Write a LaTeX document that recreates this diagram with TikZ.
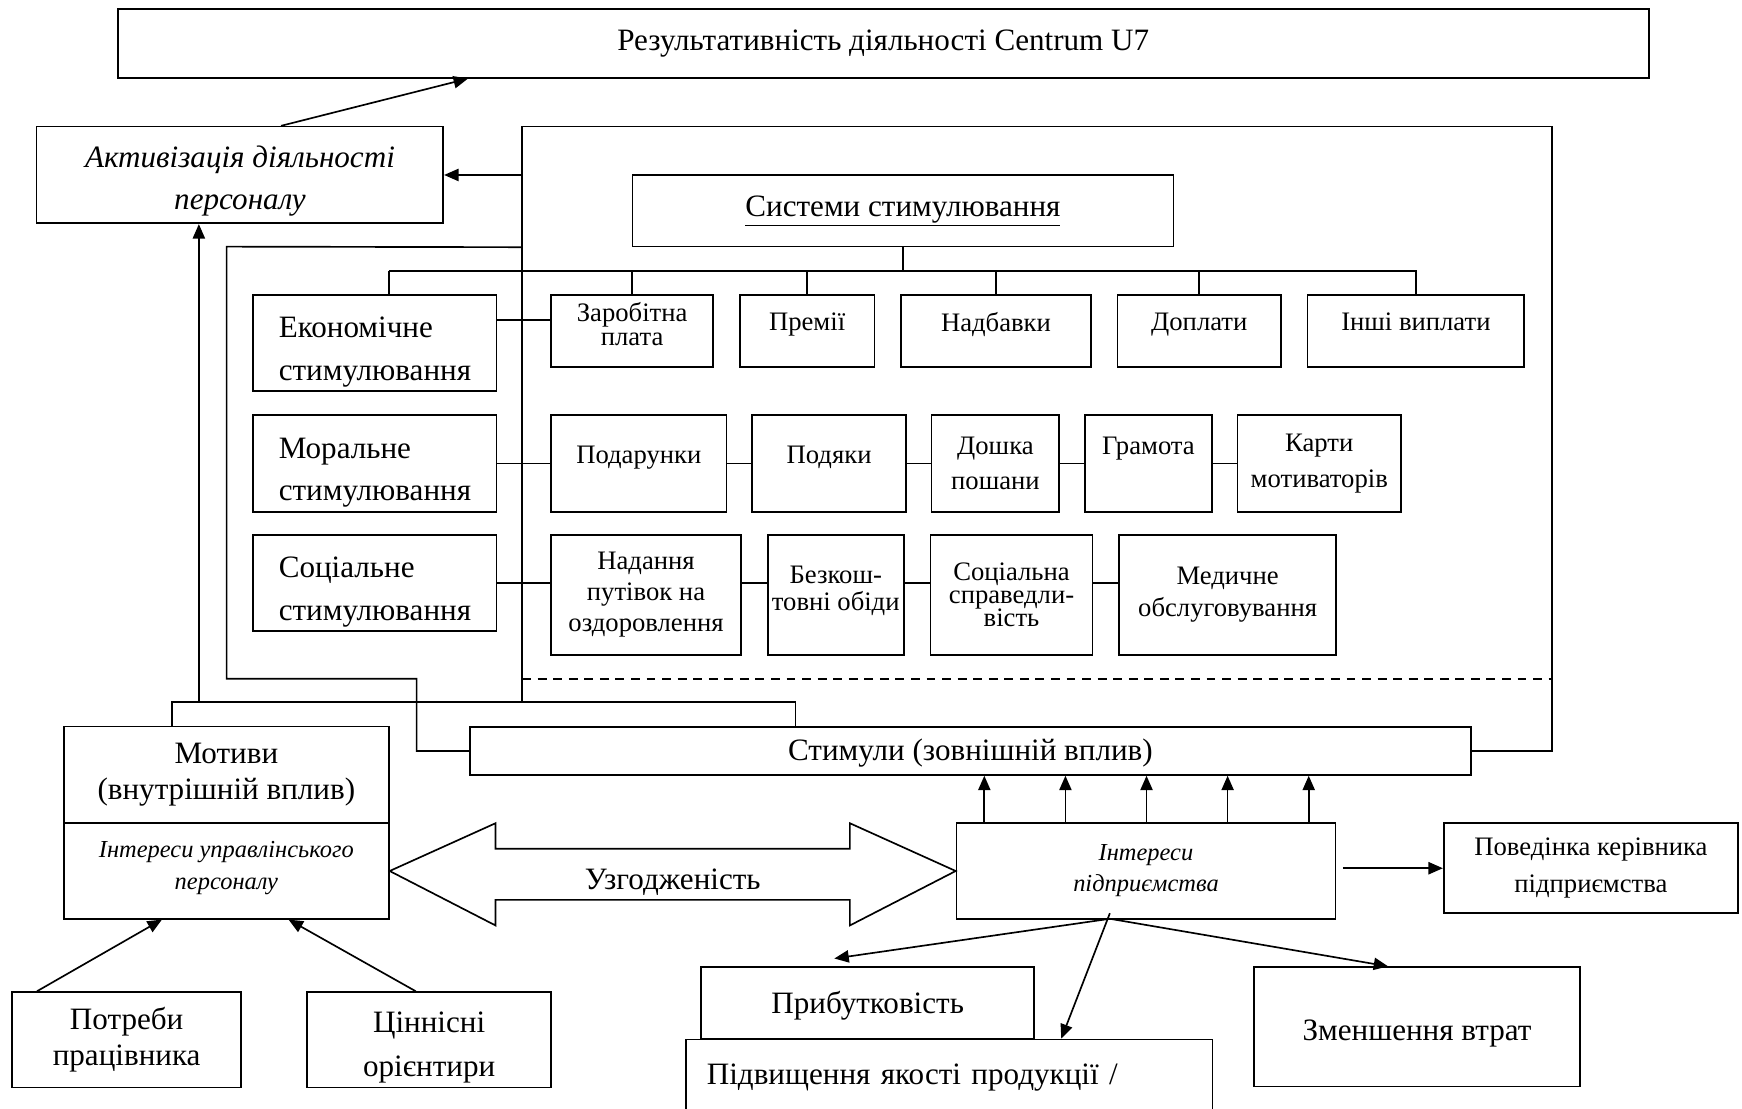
\documentclass[tikz,border=0pt]{standalone}
\usepackage{fontspec}
\setmainfont{Liberation Serif}
\usetikzlibrary{arrows.meta, positioning}

\begin{document}
\begin{tikzpicture}[x=1pt, y=-1pt, line width=1.5pt, node distance=22.5pt,
    box/.style={draw, fill=white, inner sep=0pt, align=center},
    big/.style={font=\fontsize{28}{34}\selectfont},
    small/.style={font=\fontsize{24}{32}\selectfont},
    cat/.style={box, font=\fontsize{28}{38}\selectfont, align=left, minimum width=219, text height=73pt},
    arr/.style={-{Triangle[length=13pt,width=11pt]}}]
    \useasboundingbox (0,0) rectangle (1568,998);

    \node[box, big, minimum width=1378, minimum height=62] (res) at (795,39) {Результативність діяльності Centrum U7};
    \node[box, font={\fontsize{28}{38}\selectfont\itshape}, minimum width=366, minimum height=87, text height=69pt] (act) at (216,157.5) {Активізація діяльності\\персоналу};
    \node[box, big, minimum width=487, minimum height=64] (sys) at (812.75,189.75) {\underline{Системи стимулювання}};

    \node[cat, minimum height=86.5] (econ) at (337.5,308.75) {Економічне\\стимулювання};
    \node[cat, minimum height=87.5] (mor) at (337.5,417.25) {Моральне\\стимулювання};
    \node[cat, minimum height=86.5] (soc) at (337.5,524.75) {Соціальне\\стимулювання};

    \node[box, font=\fontsize{24}{22}\selectfont, minimum width=146, minimum height=65, text depth=13pt] (zp) at (569,298) {Заробітна\\плата};
    \node[box, small, minimum width=121, minimum height=65, text depth=17pt, right=of zp] (prem) {Премії};
    \node[box, small, minimum width=171, minimum height=65, text depth=17pt, right=of prem] (nadb) {Надбавки};
    \node[box, small, minimum width=147, minimum height=65, text depth=17pt, right=of nadb] (dopl) {Доплати};
    \node[box, small, minimum width=195, minimum height=65, text depth=17pt, right=of dopl] (inshi) {Інші виплати};

    \node[box, small, minimum width=158, minimum height=87.5, text depth=15pt] (pod) at (575,417.25) {Подарунки};
    \node[box, small, minimum width=138.5, minimum height=87.5, text depth=15pt, right=21.5pt of pod] (podk) {Подяки};
    \node[box, small, minimum width=115, minimum height=87.5, right=21.5pt of podk] (dosh) {Дошка\\пошани};
    \node[box, small, minimum width=114.5, minimum height=87.5, right=21.5pt of dosh] (gram) {Грамота\\~};
    \node[box, small, minimum width=147, minimum height=87.5, right=21.5pt of gram] (karty) {Карти\\мотиваторів};

    \node[box, font=\fontsize{24}{28}\selectfont, minimum width=171, minimum height=108] (nad) at (581.5,535.5) {Надання\\путівок на\\оздоровлення};
    \node[box, font=\fontsize{24}{25}\selectfont, minimum width=122.5, minimum height=108, text depth=12pt, right=of nad] (bez) {Безкош-\\товні обіди};
    \node[box, font=\fontsize{24}{21}\selectfont, minimum width=146, minimum height=108, right=of bez] (soctwo) {Соціальна\\справедли-\\вість};
    \node[box, font=\fontsize{24}{29}\selectfont, minimum width=195, minimum height=108, right=of soctwo] (med) {Медичне\\обслуговування};

    \node[box, big, minimum width=901, minimum height=43, text height=24pt] (stim) at (873.5,676) {Стимули (зовнішній вплив)};
    \node[box, font=\fontsize{28}{32}\selectfont, minimum width=292.5, minimum height=87] (mot) at (203.75,697.5) {Мотиви\\(внутрішній вплив)};
    \node[box, font={\fontsize{22}{29}\selectfont\itshape}, minimum width=292.5, minimum height=86, text depth=10pt, below=-1.5pt of mot] (intm) {Інтереси управлінського\\персоналу};
    \node[box, font={\fontsize{22}{28}\selectfont\itshape}, minimum width=341, minimum height=86] (ent) at (1031.5,784) {Інтереси\\підприємства};
    \node[box, font=\fontsize{24}{33}\selectfont, minimum width=265, minimum height=81] (pov) at (1432,781.5) {Поведінка керівника\\підприємства};

    \node[box, font=\fontsize{28}{32}\selectfont, minimum width=206, minimum height=86] (need) at (114,936) {Потреби\\працівника};
    \node[box, font=\fontsize{28}{39}\selectfont, minimum width=219.5, minimum height=86, text height=71pt] (val) at (386.25,936) {Ціннісні\\орієнтири};

    \node[box, big, minimum width=300, minimum height=65, text height=25pt] (prib) at (781,903) {Прибутковість};
    \node[box, big, anchor=north west, inner xsep=19pt, inner ysep=22pt, text width=436, align=left] (qual) at (616.5,935) {Підвищення якості продукції /};
    \node[box, big, minimum width=293, minimum height=107.5, text height=31pt] (loss) at (1275.5,924.3) {Зменшення втрат};

    \draw (intm.east) -- (446,741) -- (446,764) -- (765,764) -- (765,741) -- (ent.west) -- (765,833) -- (765,810) -- (446,810) -- (446,833) -- cycle;
    \node[big] (agree) at (605.5,794) {Узгодженість};

    \coordinate (ftop) at (470,114);
    \coordinate (fr) at (1397,114);
    \coordinate (dl) at (470,611);
    \coordinate (bar) at (155,632);
    \coordinate (barr) at (716,632);
    \coordinate (up) at (179,632);
    \coordinate (busl) at (350,244);
    \coordinate (busr) at (1275,244);
    \coordinate (split) at (999,827);

    \draw[arr] ([xshift=37]act.north) -- ([xshift=316]res.south west);
    \draw (ftop |- bar) -- (ftop) -- (fr) |- (stim.east);
    \draw[arr] (ftop |- act.east) -- (act.east);
    \draw (ftop |- sys.south) -- (204,222) -- (204,611) -- (375,611) |- (stim.west);
    \draw[dash pattern=on 8pt off 6pt] (dl) -- (dl -| fr);
    \draw (mot.north -| bar) -- (bar) -- (barr) -- (barr |- stim.north);
    \draw[arr] (up) -- (up |- act.south);

    \draw (sys.south) -- (sys.south |- busl);
    \draw (busl) -- (busr);
    \draw (busl) -- (busl |- econ.north);
    \foreach \n in {zp,prem,nadb,dopl,inshi}
        \draw (\n.north) -- (\n.north |- busl);

    \draw ([yshift=21]econ.east) -- ([yshift=21]econ.east -| zp.west);
    \draw (mor) -- (pod) -- (podk) -- (dosh) -- (gram) -- (karty);
    \draw (soc.east) -- (soc.east -| nad.west);
    \foreach \a/\b in {nad/bez, bez/soctwo, soctwo/med}
        \draw (\a.east |- soc) -- (\b.west |- soc);

    \foreach \x in {886,959,1032,1105,1178}
        \draw[arr] (ent.north -| \x,0) -- (stim.south -| \x,0);
    \draw[arr] ([xshift=6]ent.east |- pov.west) -- (pov.west);

    \draw[arr] (split) -- ([xshift=-30,yshift=7]prib.north);
    \draw[arr] ([yshift=5]split) -- ([xshift=101]qual.north);
    \draw[arr] (split) -- ([xshift=-26]loss.north);

    \draw[arr] ([xshift=23]need.north west) -- ([xshift=89]intm.south west);
    \draw[arr] ([xshift=-12]val.north) -- ([xshift=203]intm.south west);
\end{tikzpicture}
\end{document}
